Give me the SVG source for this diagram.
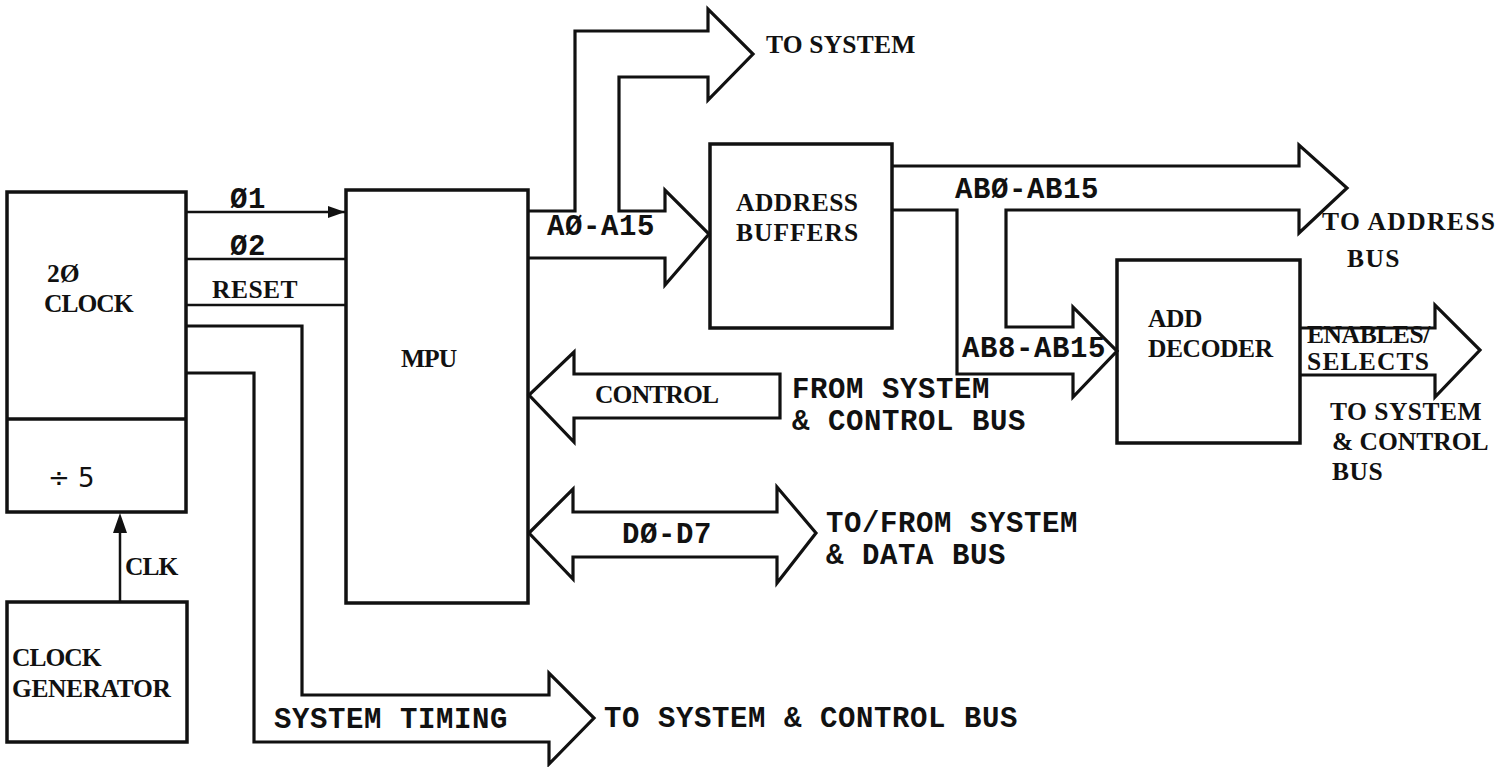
<svg xmlns="http://www.w3.org/2000/svg" width="1510" height="767" viewBox="0 0 1510 767">
<style>
  .box { fill: none; stroke: #111; stroke-width: 3.5; stroke-linejoin: miter; }
  .bus { fill: none; stroke: #111; stroke-width: 3.2; stroke-linejoin: miter; }
  .sig { fill: none; stroke: #111; stroke-width: 2.5; }
  .serif { font-family: "Liberation Serif", "Times New Roman", serif; font-weight: bold; font-size: 25.5px; fill: #111; }
  .mono { font-family: "Liberation Mono", "Courier New", monospace; font-weight: bold; font-size: 29px; letter-spacing: 0.6px; fill: #111; }
  .sans { font-family: "DejaVu Sans", "Liberation Sans", sans-serif; font-size: 26px; fill: #111; }
</style>
<defs>
  <marker id="arrR" markerWidth="18" markerHeight="14" refX="17" refY="7" orient="auto" markerUnits="userSpaceOnUse">
    <path d="M0,1 L17,7 L0,13 Z" fill="#111"/>
  </marker>
</defs>
<rect width="1510" height="767" fill="#fff"/>

<g id="clock">
  <rect class="box" x="7" y="192" width="179" height="320"/>
  <line class="box" x1="7" y1="419" x2="186" y2="419"/>
  <text class="serif" x="47" y="282">2Ø</text>
  <text class="serif" x="44" y="312" letter-spacing="-1">CLOCK</text>
  <text class="sans" x="48" y="487">÷ 5</text>
</g>

<g id="clock-generator">
  <rect class="box" x="7" y="602" width="180" height="140"/>
  <text class="serif" x="12" y="666" letter-spacing="-1">CLOCK</text>
  <text class="serif" x="12" y="697" letter-spacing="-0.4">GENERATOR</text>
</g>

<g id="mpu">
  <rect class="box" x="346" y="190" width="182" height="413"/>
  <text class="serif" x="401" y="367" letter-spacing="-1">MPU</text>
</g>

<g id="address-buffers">
  <rect class="box" x="710" y="144" width="182" height="184"/>
  <text class="serif" x="736" y="211" letter-spacing="0.5">ADDRESS</text>
  <text class="serif" x="736" y="241" letter-spacing="1">BUFFERS</text>
</g>

<g id="add-decoder">
  <rect class="box" x="1117" y="260" width="183" height="183"/>
  <text class="serif" x="1148" y="327" letter-spacing="-0.4">ADD</text>
  <text class="serif" x="1148" y="357" letter-spacing="-0.4">DECODER</text>
</g>

<g id="connectors">
  <!-- clock signals -->
  <line class="sig" x1="186" y1="212" x2="345" y2="212" marker-end="url(#arrR)"/>
  <text class="mono" x="230" y="208">Ø1</text>
  <line class="sig" x1="186" y1="259" x2="346" y2="259"/>
  <text class="mono" x="230" y="255">Ø2</text>
  <line class="sig" x1="186" y1="305" x2="346" y2="305"/>
  <text class="serif" x="212" y="298" letter-spacing="0.5">RESET</text>

  <!-- CLK -->
  <line class="sig" x1="120" y1="602" x2="120" y2="530"/>
  <path d="M113,533 L120,513 L127,533 Z" fill="#111"/>
  <text class="serif" x="125" y="575" letter-spacing="-1">CLK</text>

  <!-- system timing bus -->
  <path class="bus" d="M186,326 H302 V695 H549 V673 L594,718 L549,764 V742 H254 V373 H186"/>
  <text class="mono" x="274" y="728">SYSTEM TIMING</text>
  <text class="mono" x="604" y="727">TO SYSTEM &amp; CONTROL BUS</text>

  <!-- address bus A0-A15 -->
  <path class="bus" d="M528,211 H575 V31 H708 V9 L753,54 L708,100 V77 H619 V211 H665 V190 L709,234 L665,285 V258 H528"/>
  <text class="mono" x="547" y="235">AØ-A15</text>
  <text class="serif" x="766" y="53" letter-spacing="0.2">TO SYSTEM</text>

  <!-- AB0-AB15 and AB8-AB15 -->
  <path class="bus" d="M892,166 H1299 V145 L1347,188 L1299,233 V210 H1006 V327 H1073 V307 L1117,351 L1073,397 V374 H957 V210 H892"/>
  <text class="mono" x="955" y="198">ABØ-AB15</text>
  <text class="mono" x="962" y="357">AB8-AB15</text>
  <text class="serif" x="1322" y="230" letter-spacing="1.4">TO ADDRESS</text>
  <text class="serif" x="1347" y="267" letter-spacing="1.4">BUS</text>

  <!-- enables / selects -->
  <path class="bus" d="M1300,328 H1435 V305 L1480,350 L1435,397 V375 H1300"/>
  <text class="serif" x="1307" y="343" letter-spacing="-0.4">ENABLES/</text>
  <text class="serif" x="1307" y="370" letter-spacing="1.2">SELECTS</text>
  <text class="serif" x="1330" y="420" letter-spacing="0.5">TO SYSTEM</text>
  <text class="serif" x="1332" y="450">&amp; CONTROL</text>
  <text class="serif" x="1332" y="480" letter-spacing="0.5">BUS</text>

  <!-- control -->
  <path class="bus" d="M780,374 H574 V352 L529,395 L574,442 V418 H780 Z"/>
  <text class="serif" x="595" y="403" letter-spacing="-0.8">CONTROL</text>
  <text class="mono" x="792" y="398">FROM SYSTEM</text>
  <text class="mono" x="792" y="430">&amp; CONTROL BUS</text>

  <!-- data bus -->
  <path class="bus" d="M529,533 L573,489 V512 H777 V487 L816,533 L777,583 V557 H573 V579 Z"/>
  <text class="mono" x="622" y="543">DØ-D7</text>
  <text class="mono" x="826" y="532">TO/FROM SYSTEM</text>
  <text class="mono" x="826" y="564">&amp; DATA BUS</text>
</g>
</svg>
